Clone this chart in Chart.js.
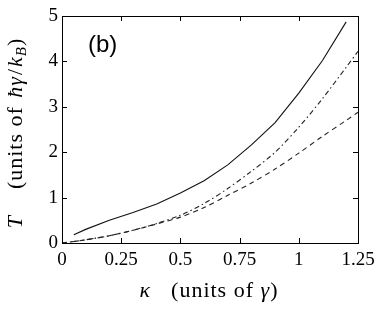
<!DOCTYPE html>
<html>
<head>
<meta charset="utf-8">
<script src="https://cdn.jsdelivr.net/npm/chart.js@4"></script>
<style>
  html, body { margin: 0; padding: 0; background: #fff; }
  #wrap { width: 382px; height: 311px; }
</style>
</head>
<body>
<div id="wrap"><canvas id="tempChart" width="382" height="311"></canvas></div>
<script>
// kappa (units of gamma) vs T (units of hbar gamma / k_B)
var kappaSolid = [0.05, 0.1, 0.2, 0.3, 0.4, 0.5, 0.6, 0.7, 0.8, 0.9, 1.0, 1.1, 1.2];
var tempSolid = [0.18, 0.3, 0.5, 0.67, 0.86, 1.1, 1.37, 1.72, 2.16, 2.65, 3.3, 4.02, 4.87];

var kappaCurves = [0, 0.1, 0.2, 0.3, 0.4, 0.5, 0.6, 0.7, 0.8, 0.9, 1.0, 1.1, 1.2, 1.25];
var tempDashDot = [0, 0.07, 0.16, 0.28, 0.43, 0.61, 0.87, 1.2, 1.58, 2.0, 2.55, 3.18, 3.87, 4.22];
var tempDashed = [0, 0.07, 0.16, 0.28, 0.42, 0.57, 0.78, 1.05, 1.32, 1.63, 1.98, 2.35, 2.7, 2.88];

var xTicks = [0, 0.25, 0.5, 0.75, 1, 1.25];
var yTicks = [0, 1, 2, 3, 4, 5];

function toPoints(xs, ys) {
    return xs.map(function (x, i) { return { x: x, y: ys[i] }; });
}

var serif = '"Liberation Serif", "DejaVu Serif", serif';

// inward ticks on all four sides plus the frame
var framePlugin = {
    id: 'frame',
    afterDatasetsDraw: function (chart) {
        var ctx = chart.ctx, a = chart.chartArea;
        var xs = chart.scales.x, ys = chart.scales.y;
        ctx.save();
        ctx.strokeStyle = '#000';
        ctx.lineWidth = 1;
        ctx.strokeRect(a.left + 0.5, a.top + 0.5, a.right - a.left, a.bottom - a.top);
        var len = 5;
        xTicks.forEach(function (v) {
            var px = Math.round(xs.getPixelForValue(v)) + 0.5;
            ctx.beginPath();
            ctx.moveTo(px, a.bottom); ctx.lineTo(px, a.bottom - len);
            ctx.moveTo(px, a.top); ctx.lineTo(px, a.top + len);
            ctx.stroke();
        });
        yTicks.forEach(function (v) {
            var py = Math.round(ys.getPixelForValue(v)) + 0.5;
            ctx.beginPath();
            ctx.moveTo(a.left, py); ctx.lineTo(a.left + len, py);
            ctx.moveTo(a.right, py); ctx.lineTo(a.right - len, py);
            ctx.stroke();
        });
        ctx.restore();
    }
};

// panel label and the two axis titles with their math bits
var textPlugin = {
    id: 'texts',
    afterDraw: function (chart) {
        var ctx = chart.ctx;
        ctx.save();
        ctx.fillStyle = '#000';
        ctx.textBaseline = 'alphabetic';

        ctx.font = '24px "Liberation Sans", Arial, sans-serif';
        ctx.textAlign = 'left';
        ctx.fillText('(b)', 88, 52);

        ctx.letterSpacing = '1px';
        function drawRuns(runs, x, y) {
            var cx = x;
            runs.forEach(function (r) {
                ctx.font = r.font;
                ctx.fillText(r.text, cx, y + (r.dy || 0));
                cx += ctx.measureText(r.text).width + (r.gap || 0);
            });
        }
        function runsWidth(runs) {
            var w = 0;
            runs.forEach(function (r) {
                ctx.font = r.font;
                w += ctx.measureText(r.text).width + (r.gap || 0);
            });
            return w;
        }

        var xTitle = [
            { text: 'κ', font: 'italic 22px ' + serif, gap: 20 },
            { text: '(units of ', font: '22px ' + serif },
            { text: 'γ', font: 'italic 22px ' + serif },
            { text: ')', font: '22px ' + serif }
        ];
        var wx = runsWidth(xTitle);
        drawRuns(xTitle, 209 - wx / 2, 297);

        var yTitle = [
            { text: 'T', font: 'italic 22px ' + serif, gap: 26 },
            { text: '(units of ', font: '22px ' + serif, gap: 2 },
            { text: 'ħγ', font: 'italic 22px ' + serif, gap: 1 },
            { text: '/', font: '22px ' + serif, gap: 1 },
            { text: 'k', font: 'italic 22px ' + serif },
            { text: 'B', font: 'italic 15px ' + serif, dy: 4 },
            { text: ')', font: '22px ' + serif }
        ];
        var wy = runsWidth(yTitle);
        ctx.translate(22, 133);
        ctx.rotate(-Math.PI / 2);
        drawRuns(yTitle, -wy / 2, 0);
        ctx.restore();
    }
};

var ctx = document.getElementById('tempChart').getContext('2d');
var tempChart = new Chart(ctx, {
    type: 'line',
    data: {
        datasets: [{
            label: 'solid',
            data: toPoints(kappaSolid, tempSolid),
            borderColor: '#111',
            borderWidth: 1.1,
            pointRadius: 0,
            tension: 0,
            fill: false
        }, {
            label: 'dash-dot',
            data: toPoints(kappaCurves, tempDashDot),
            borderColor: '#222',
            borderWidth: 1.1,
            borderDash: [5, 3, 1.5, 3],
            pointRadius: 0,
            tension: 0.3,
            fill: false
        }, {
            label: 'dashed',
            data: toPoints(kappaCurves, tempDashed),
            borderColor: '#222',
            borderWidth: 1.1,
            borderDash: [5, 4],
            pointRadius: 0,
            tension: 0.3,
            fill: false
        }]
    },
    options: {
        responsive: false,
        animation: false,
        layout: {
            padding: { left: 0, top: 16, right: 24, bottom: 0 }
        },
        scales: {
            x: {
                type: 'linear',
                min: 0,
                max: 1.25,
                grid: { display: false, drawTicks: false },
                border: { display: false },
                afterFit: function (scale) { scale.height = 68; },
                afterBuildTicks: function (scale) {
                    scale.ticks = xTicks.map(function (v) { return { value: v }; });
                },
                ticks: {
                    color: '#000',
                    padding: 6,
                    maxRotation: 0,
                    font: { family: serif, size: 19 },
                    callback: function (v) { return String(v); }
                }
            },
            y: {
                type: 'linear',
                min: 0,
                max: 5,
                grid: { display: false, drawTicks: false },
                border: { display: false },
                afterFit: function (scale) { scale.width = 62; },
                afterBuildTicks: function (scale) {
                    scale.ticks = yTicks.map(function (v) { return { value: v }; });
                },
                ticks: {
                    color: '#000',
                    padding: 4,
                    font: { family: serif, size: 19 }
                }
            }
        },
        plugins: {
            legend: { display: false },
            tooltip: { enabled: false }
        }
    },
    plugins: [framePlugin, textPlugin]
});
</script>
</body>
</html>
